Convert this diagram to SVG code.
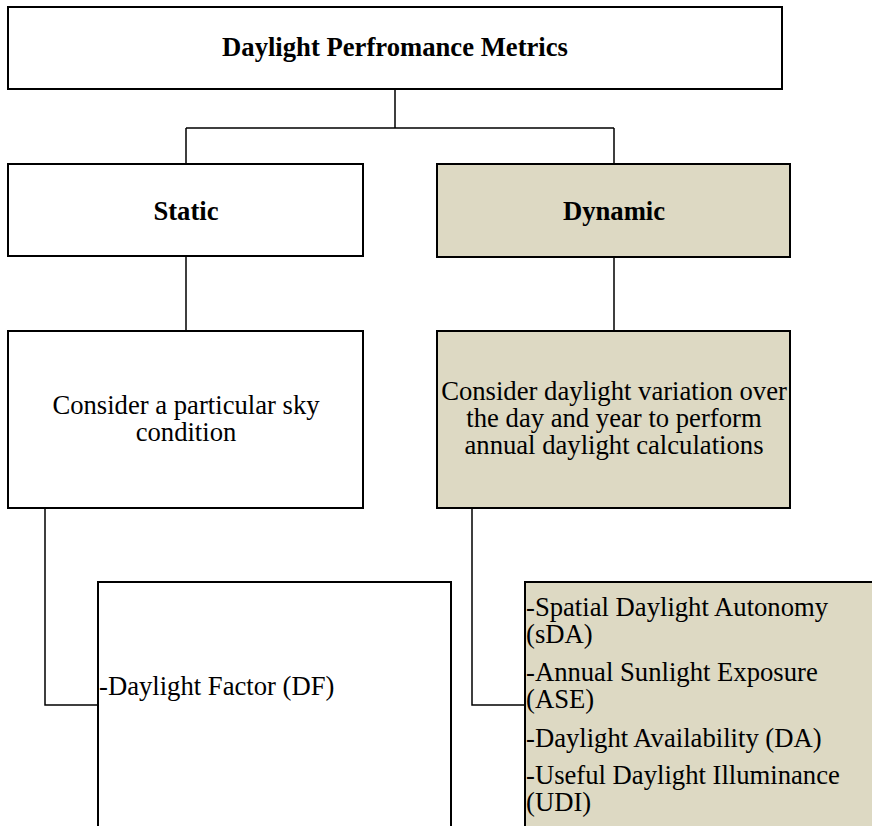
<svg xmlns="http://www.w3.org/2000/svg" width="872" height="826" viewBox="0 0 872 826">
  <style>
    .box { fill: #ffffff; stroke: #000000; stroke-width: 2; }
    .tan { fill: #ddd9c3; }
    .conn { fill: none; stroke: #000000; stroke-width: 1.5; }
    .t { font-family: "Liberation Serif", "Times New Roman", serif; font-size: 26.67px; fill: #000000; }
    .b { font-weight: bold; }
    .c { text-anchor: middle; }
  </style>
  <rect width="872" height="826" fill="#ffffff"/>

  <g id="connectors">
    <path class="conn" d="M395 89 V128 M186 128 H614 M186 128 V164 M614 128 V164" stroke-width="2"/>
    <path class="conn" d="M186 256 V331 M614 257 V331"/>
    <path class="conn" d="M45 508 V705 H98"/>
    <path class="conn" d="M472 508 V705 H525"/>
  </g>

  <g id="metrics">
    <rect class="box" x="8" y="7" width="774" height="82"/>
    <text class="t b c" x="395" y="56">Daylight Perfromance Metrics</text>
  </g>

  <g id="static">
    <rect class="box" x="8" y="164" width="355" height="92"/>
    <text class="t b c" x="186" y="220">Static</text>
  </g>

  <g id="dynamic">
    <rect class="box tan" x="437" y="164" width="353" height="93"/>
    <text class="t b c" x="614" y="220">Dynamic</text>
  </g>

  <g id="static-desc">
    <rect class="box" x="8" y="331" width="355" height="177"/>
    <text class="t c" x="186" y="414">Consider a particular sky</text>
    <text class="t c" x="186" y="441">condition</text>
  </g>

  <g id="dynamic-desc">
    <rect class="box tan" x="437" y="331" width="353" height="177"/>
    <text class="t c" x="614" y="400">Consider daylight variation over</text>
    <text class="t c" x="614" y="427">the day and year to perform</text>
    <text class="t c" x="614" y="454">annual daylight calculations</text>
  </g>

  <g id="static-metrics">
    <rect class="box" x="98" y="582" width="353" height="260"/>
    <text class="t" x="99" y="695">-Daylight Factor (DF)</text>
  </g>

  <g id="dynamic-metrics">
    <rect class="box tan" x="525" y="582" width="360" height="260"/>
    <text class="t" x="526" y="616">-Spatial Daylight Autonomy</text>
    <text class="t" x="526" y="643">(sDA)</text>
    <text class="t" x="526" y="681">-Annual Sunlight Exposure</text>
    <text class="t" x="526" y="708">(ASE)</text>
    <text class="t" x="526" y="747">-Daylight Availability (DA)</text>
    <text class="t" x="526" y="784">-Useful Daylight Illuminance</text>
    <text class="t" x="526" y="811">(UDI)</text>
  </g>
</svg>
